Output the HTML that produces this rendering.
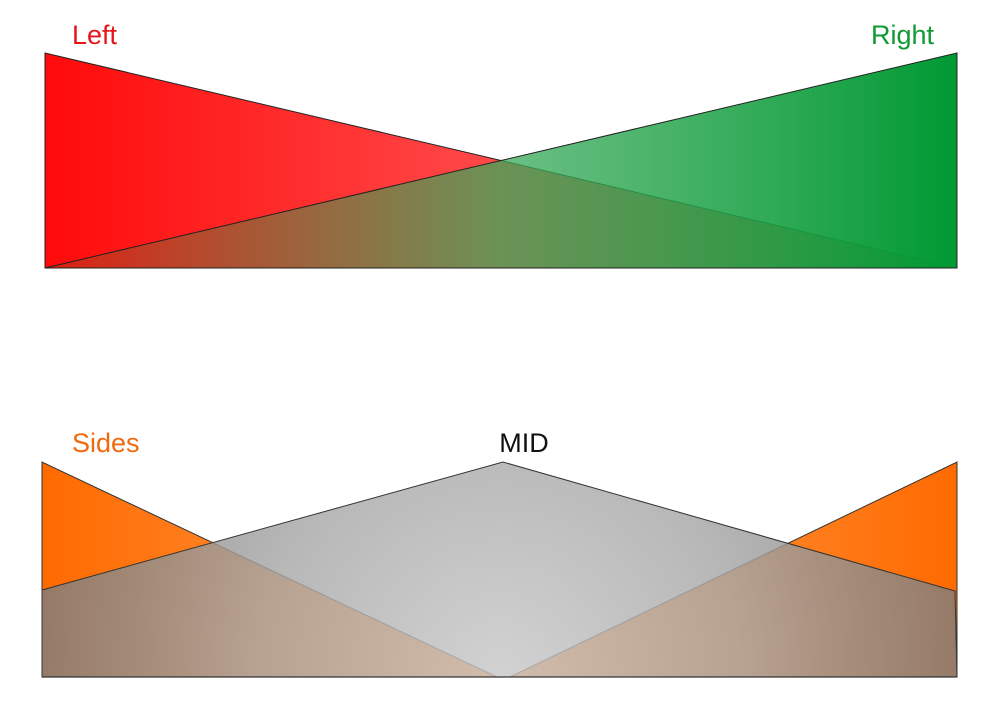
<!DOCTYPE html>
<html><head><style>body{margin:0;background:#fff}svg{display:block}</style></head><body>
<svg width="1000" height="717" viewBox="0 0 1000 717" xmlns="http://www.w3.org/2000/svg">
<defs>
<linearGradient id="red" x1="45" y1="0" x2="957" y2="0" gradientUnits="userSpaceOnUse">
<stop offset="0" stop-color="#ff0a0a"/><stop offset="0.5" stop-color="#ff4a4a"/><stop offset="1" stop-color="#ff7070"/></linearGradient>
<linearGradient id="green" x1="45" y1="0" x2="957" y2="0" gradientUnits="userSpaceOnUse">
<stop offset="0" stop-color="#2a8a3a" stop-opacity="0.15"/><stop offset="0.5" stop-color="#3aaa5a" stop-opacity="0.75"/><stop offset="1" stop-color="#009933" stop-opacity="1"/></linearGradient>
<linearGradient id="orL" x1="42" y1="0" x2="300" y2="0" gradientUnits="userSpaceOnUse">
<stop offset="0" stop-color="#ff6a00"/><stop offset="1" stop-color="#ff8a30"/></linearGradient>
<linearGradient id="orR" x1="957" y1="0" x2="700" y2="0" gradientUnits="userSpaceOnUse">
<stop offset="0" stop-color="#ff6a00"/><stop offset="1" stop-color="#ff8a30"/></linearGradient>
<radialGradient id="gray" cx="500" cy="677" r="480" gradientUnits="userSpaceOnUse">
<stop offset="0" stop-color="#c8c8c8"/><stop offset="0.5" stop-color="#a8a8a8"/><stop offset="1" stop-color="#7a7a7a"/></radialGradient>
</defs>
<polygon points="45,53 45,268 957,268" fill="url(#red)" stroke="#222" stroke-width="1"/>
<polygon points="957,53 957,268 45,268" fill="url(#green)" stroke="#222" stroke-width="1"/>
<polygon points="42,462 42,677 497,677" fill="url(#orL)" stroke="#333" stroke-width="1"/>
<polygon points="957,462 957,677 510,677" fill="url(#orR)" stroke="#333" stroke-width="1"/>
<polygon points="42,590 503,462 955,591 957,677 42,677" fill="url(#gray)" fill-opacity="0.82" stroke="#333" stroke-width="1"/>
<line x1="42" y1="677" x2="957" y2="677" stroke="#333" stroke-width="1.2"/>
<g font-family="Liberation Sans, sans-serif" font-size="27">
<text x="72" y="44" fill="#e8141a">Left</text>
<text x="934" y="44" fill="#119933" text-anchor="end">Right</text>
<text x="72" y="452" fill="#f06a10">Sides</text>
<text x="524" y="452" fill="#111" text-anchor="middle">MID</text>
</g>
</svg>
</body></html>
